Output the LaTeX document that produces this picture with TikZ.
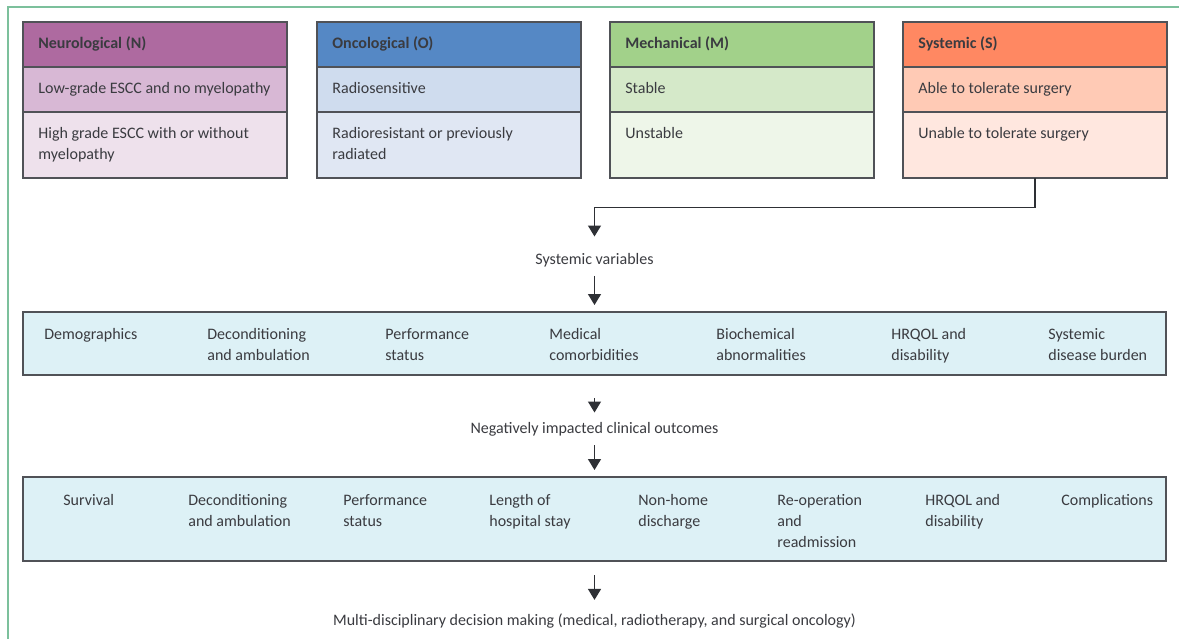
\documentclass[tikz,border=0pt]{standalone}
\usepackage{fontspec}
\setmainfont{Carlito}
\usetikzlibrary{arrows.meta,positioning}

\definecolor{framegreen}{HTML}{7CC09C}
\definecolor{boxgray}{HTML}{505257}
\definecolor{arrowgray}{HTML}{2E3035}
\definecolor{txtgray}{HTML}{3A3B40}
\definecolor{nhead}{HTML}{AE6AA0}
\definecolor{nrow}{HTML}{D8B8D5}
\definecolor{nlow}{HTML}{EEE1EC}
\definecolor{ohead}{HTML}{5588C5}
\definecolor{orow}{HTML}{CFDCEE}
\definecolor{olow}{HTML}{E0E7F3}
\definecolor{mhead}{HTML}{A2D18A}
\definecolor{mrow}{HTML}{D5E9C9}
\definecolor{mlow}{HTML}{EEF6E9}
\definecolor{shead}{HTML}{FF8862}
\definecolor{srow}{HTML}{FFCAB5}
\definecolor{slow}{HTML}{FFE7DF}
\definecolor{bandblue}{HTML}{DDF1F6}

% lines hanging from the baseline of the first one
\newcommand{\cellstack}[1]{\begin{tabular}[t]{@{}l@{}}#1\end{tabular}}

\tikzset{
    cell/.style={draw=boxgray, line width=0.75pt, anchor=north west, minimum width=132pt, inner sep=0pt, outer sep=0pt},
    headcell/.style={cell, minimum height=22.5pt},
    rowcell/.style={cell, minimum height=22.5pt},
    lowcell/.style={cell, minimum height=33pt},
    celltext/.style={anchor=base west, inner sep=0pt, text=txtgray, font=\fontsize{8}{10.5}\selectfont},
    headtext/.style={celltext, font=\fontsize{8}{10.5}\selectfont\bfseries},
    band/.style={draw=boxgray, line width=0.75pt, fill=bandblue, anchor=north west, minimum width=571.5pt, outer sep=0pt},
    flowlabel/.style={anchor=base, inner sep=0pt, text=txtgray, font=\fontsize{8}{10.5}\selectfont},
    flow/.style={draw=arrowgray, line width=0.65pt, -{Triangle[width=6.5pt,length=5.5pt]}}
}

\begin{document}
\begin{tikzpicture}[x=0.5pt, y=-0.5pt]
    \fill[white] (0,0) rectangle (1179,639);
    \useasboundingbox (0,0) rectangle (1179,639);
    \draw[framegreen, line width=0.75pt] (1179,7) -- (8,7) -- (8,639);

    % NOMS columns
    \node[headcell, fill=nhead] (n0) at (23,22) {};
    \node[rowcell, fill=nrow] (n1) at (n0.south west) {};
    \node[lowcell, fill=nlow] (n2) at (n1.south west) {};
    \node[headtext] (n0t) at ([shift={(7.5pt,-13pt)}]n0.north west) {Neurological (N)};
    \node[celltext] (n1t) at ([shift={(7.5pt,-13pt)}]n1.north west) {Low-grade ESCC and no myelopathy};
    \node[celltext] (n2t) at ([shift={(7.5pt,-13pt)}]n2.north west) {\cellstack{High grade ESCC with or without\\myelopathy}};

    \node[headcell, fill=ohead] (o0) at (317,22) {};
    \node[rowcell, fill=orow] (o1) at (o0.south west) {};
    \node[lowcell, fill=olow] (o2) at (o1.south west) {};
    \node[headtext] (o0t) at ([shift={(7.5pt,-13pt)}]o0.north west) {Oncological (O)};
    \node[celltext] (o1t) at ([shift={(7.5pt,-13pt)}]o1.north west) {Radiosensitive};
    \node[celltext] (o2t) at ([shift={(7.5pt,-13pt)}]o2.north west) {\cellstack{Radioresistant or previously\\radiated}};

    \node[headcell, fill=mhead] (m0) at (610,22) {};
    \node[rowcell, fill=mrow] (m1) at (m0.south west) {};
    \node[lowcell, fill=mlow] (m2) at (m1.south west) {};
    \node[headtext] (m0t) at ([shift={(7.5pt,-13pt)}]m0.north west) {Mechanical (M)};
    \node[celltext] (m1t) at ([shift={(7.5pt,-13pt)}]m1.north west) {Stable};
    \node[celltext] (m2t) at ([shift={(7.5pt,-13pt)}]m2.north west) {Unstable};

    \node[headcell, fill=shead] (s0) at (903,22) {};
    \node[rowcell, fill=srow] (s1) at (s0.south west) {};
    \node[lowcell, fill=slow] (s2) at (s1.south west) {};
    \node[headtext] (s0t) at ([shift={(7.5pt,-13pt)}]s0.north west) {Systemic (S)};
    \node[celltext] (s1t) at ([shift={(7.5pt,-13pt)}]s1.north west) {Able to tolerate surgery};
    \node[celltext] (s2t) at ([shift={(7.5pt,-13pt)}]s2.north west) {Unable to tolerate surgery};

    % systemic variables
    \node[flowlabel] (sysvar) at (594.5,264) {Systemic variables};
    \node[band, minimum height=31.5pt] (band1) at (23,312) {};
    \node[celltext] (var1) at (44,339) {Demographics};
    \node[celltext] (var2) at (207,339) {\cellstack{Deconditioning\\and ambulation}};
    \node[celltext] (var3) at (385,339) {\cellstack{Performance\\status}};
    \node[celltext] (var4) at (549,339) {\cellstack{Medical\\comorbidities}};
    \node[celltext] (var5) at (716,339) {\cellstack{Biochemical\\abnormalities}};
    \node[celltext] (var6) at (891,339) {\cellstack{HRQOL and\\disability}};
    \node[celltext] (var7) at (1048,339) {\cellstack{Systemic\\disease burden}};

    % outcomes
    \node[flowlabel] (neg) at (594.5,433) {Negatively impacted clinical outcomes};
    \node[band, minimum height=42pt] (band2) at (23,477) {};
    \node[celltext] (out1) at (63,505) {Survival};
    \node[celltext] (out2) at (188,505) {\cellstack{Deconditioning\\and ambulation}};
    \node[celltext] (out3) at (343,505) {\cellstack{Performance\\status}};
    \node[celltext] (out4) at (489,505) {\cellstack{Length of\\hospital stay}};
    \node[celltext] (out5) at (638,505) {\cellstack{Non-home\\discharge}};
    \node[celltext] (out6) at (777,505) {\cellstack{Re-operation\\and\\readmission}};
    \node[celltext] (out7) at (925,505) {\cellstack{HRQOL and\\disability}};
    \node[celltext] (out8) at (1061,505) {Complications};

    \node[flowlabel] (mdt) at (594.5,625) {Multi-disciplinary decision making (medical, radiotherapy, and surgical oncology)};

    % arrows
    \draw[flow, shorten >=8pt] (s2.south) |- ([yshift=22.5pt]sysvar.north) -- (sysvar.north);
    \draw[flow, shorten <=4.5pt, shorten >=3.5pt] (sysvar.south) -- (band1.north);
    \draw[flow, shorten <=11.5pt, shorten >=4.5pt] (band1.south) -- (neg.north);
    \draw[flow, shorten <=4.5pt, shorten >=3.5pt] (neg.south) -- (band2.north);
    \draw[flow, shorten <=7pt, shorten >=6.5pt] (band2.south) -- (mdt.north);
\end{tikzpicture}
\end{document}
